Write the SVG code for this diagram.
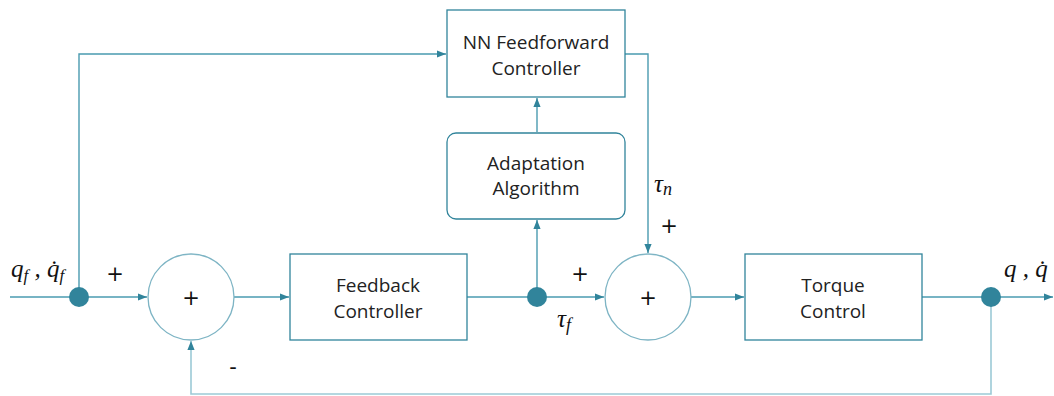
<svg xmlns="http://www.w3.org/2000/svg" width="1054" height="396" viewBox="0 0 1054 396">
<style>
.box{fill:#fff;stroke:#31849b;stroke-width:1.3}
.sum{fill:#fff;stroke:#7db4c4;stroke-width:1.3}
.ln{fill:none;stroke:#4a9bb0;stroke-width:1.4}
.lnl{fill:none;stroke:#9ccad6;stroke-width:1.6}
.dot{fill:#31849b}
.t{font-family:"Open Sans","Noto Sans",sans-serif;font-size:19px;fill:#222;text-anchor:middle}
.s{font-family:"DejaVu Sans",sans-serif;font-size:21px;fill:#111;text-anchor:middle}
.m{font-family:"Liberation Serif",serif;font-style:italic;font-size:25px;fill:#111}
</style>
<defs>
<marker id="ah2" viewBox="0 0 10 10" refX="10" refY="5" markerWidth="9" markerHeight="9" orient="auto" markerUnits="userSpaceOnUse">
<path d="M0,1 L10,5 L0,9 z" fill="#31849b"/>
</marker>
</defs>
<g id="connectors">
<line class="ln" x1="10" y1="297" x2="147" y2="297" marker-end="url(#ah2)"/>
<polyline class="ln" points="79,297 79,54 446,54" marker-end="url(#ah2)"/>
<line class="ln" x1="234" y1="297" x2="289" y2="297" marker-end="url(#ah2)"/>
<line class="ln" x1="467" y1="297" x2="604" y2="297" marker-end="url(#ah2)"/>
<line class="ln" x1="537" y1="297" x2="537" y2="220" marker-end="url(#ah2)"/>
<line class="ln" x1="537" y1="132" x2="537" y2="98" marker-end="url(#ah2)"/>
<polyline class="ln" points="625,54 648,54 648,253" marker-end="url(#ah2)"/>
<line class="ln" x1="691" y1="297" x2="744" y2="297" marker-end="url(#ah2)"/>
<line class="ln" x1="922" y1="297" x2="1053" y2="297" marker-end="url(#ah2)"/>
<polyline class="lnl" points="991,297 991,394 191,394 191,341" marker-end="url(#ah2)"/>
</g>
<g id="dot1"><circle class="dot" cx="79" cy="297" r="10"/></g>
<g id="dot2"><circle class="dot" cx="537" cy="297" r="10"/></g>
<g id="dot3"><circle class="dot" cx="991" cy="297" r="10"/></g>
<g id="sum1"><circle class="sum" cx="191" cy="297" r="43"/><text class="s" x="191" y="305">+</text></g>
<g id="sum2"><circle class="sum" cx="648" cy="297" r="43"/><text class="s" x="648" y="305">+</text></g>
<g id="nn"><rect class="box" x="447" y="10" width="178" height="87"/><text class="t" x="536" y="49">NN Feedforward</text><text class="t" x="536" y="75">Controller</text></g>
<g id="adapt"><rect class="box" x="447" y="133" width="178" height="86" rx="9"/><text class="t" x="536" y="170">Adaptation</text><text class="t" x="536" y="195">Algorithm</text></g>
<g id="fb"><rect class="box" x="290" y="254" width="177" height="86"/><text class="t" x="378" y="292">Feedback</text><text class="t" x="378" y="318">Controller</text></g>
<g id="tq"><rect class="box" x="745" y="254" width="177" height="86"/><text class="t" x="833" y="292">Torque</text><text class="t" x="833" y="318">Control</text></g>
<g id="labels">
<text class="s" x="115" y="281">+</text>
<text class="s" x="233" y="374">-</text>
<text class="s" x="580" y="281">+</text>
<text class="s" x="669" y="233">+</text>
<text class="m" x="11" y="277">q<tspan font-size="17" dy="4">f</tspan><tspan dy="-4"> , q̇</tspan><tspan font-size="17" dy="4">f</tspan></text>
<text class="m" x="1004" y="277">q , q̇</text>
<text class="m" x="654" y="192" font-style="normal">τ<tspan font-style="italic" font-size="18" dy="3">n</tspan></text>
<text class="m" x="557" y="327" font-style="normal">τ<tspan font-style="italic" font-size="18" dy="4">f</tspan></text>
</g>
</svg>
